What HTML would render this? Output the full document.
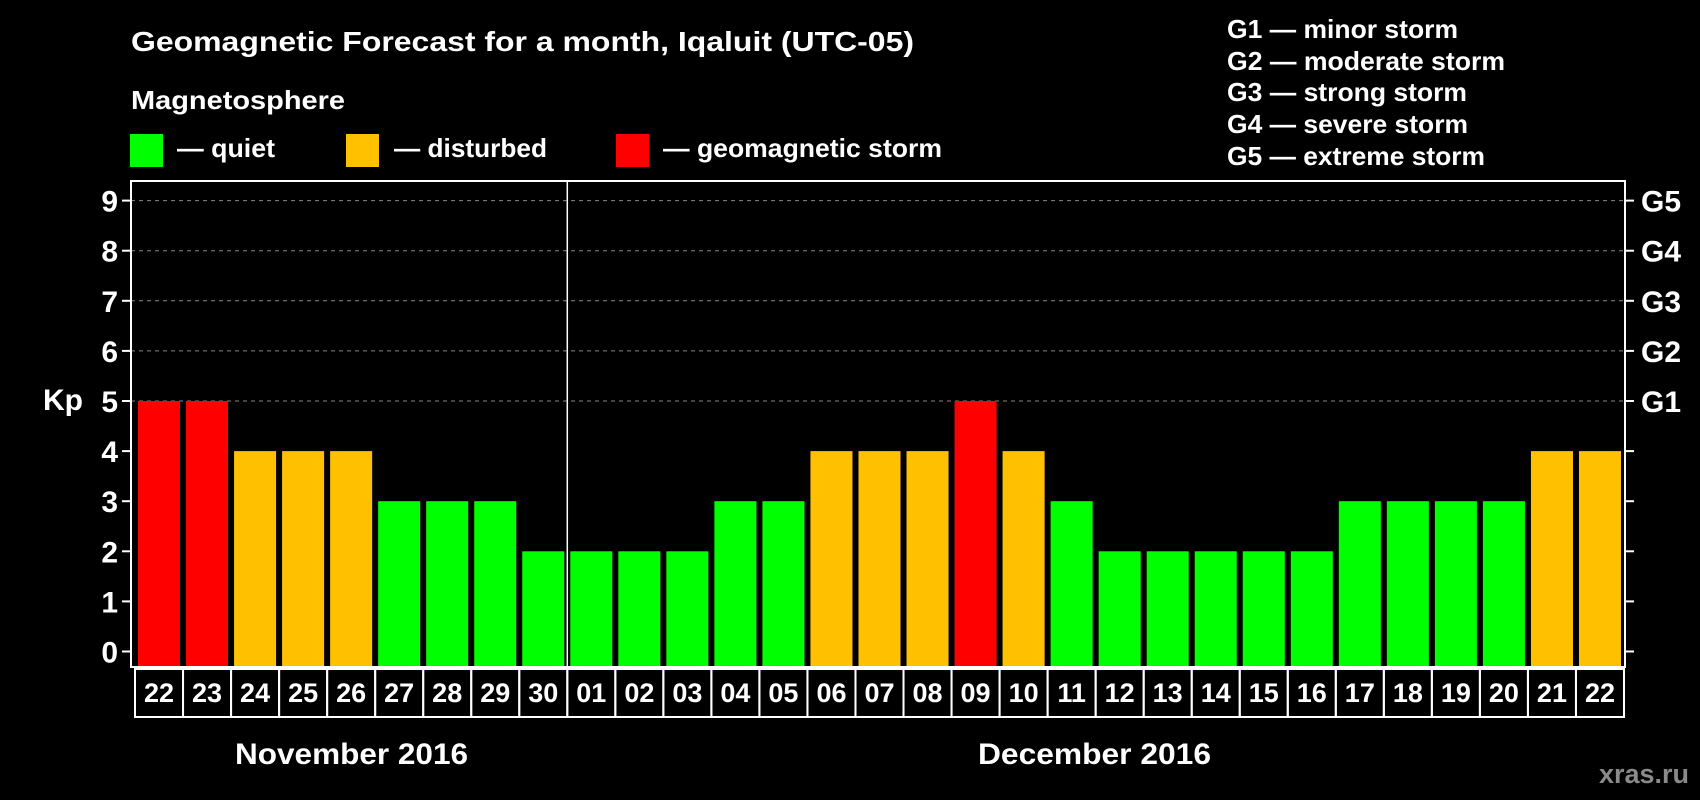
<!DOCTYPE html>
<html><head><meta charset="utf-8"><style>
html,body{margin:0;padding:0;background:#000;}
svg{display:block;font-family:"Liberation Sans",Arial,sans-serif;font-weight:bold;}
</style></head><body>
<svg id="chart" width="1700" height="800" viewBox="0 0 1700 800">
<text x="131" y="51" fill="#fff" font-size="28" textLength="783" lengthAdjust="spacingAndGlyphs">Geomagnetic Forecast for a month, Iqaluit (UTC-05)</text>
<text x="131" y="109" fill="#fff" font-size="26" textLength="214" lengthAdjust="spacingAndGlyphs">Magnetosphere</text>
<rect x="130" y="134" width="33" height="33" fill="#00ff00"/>
<text x="177" y="157" fill="#fff" font-size="26" textLength="98" lengthAdjust="spacingAndGlyphs">— quiet</text>
<rect x="346" y="134" width="33" height="33" fill="#ffc000"/>
<text x="394" y="157" fill="#fff" font-size="26" textLength="153" lengthAdjust="spacingAndGlyphs">— disturbed</text>
<rect x="616" y="134" width="33" height="33" fill="#ff0000"/>
<text x="663" y="157" fill="#fff" font-size="26" textLength="279" lengthAdjust="spacingAndGlyphs">— geomagnetic storm</text>
<g fill="#fff" font-size="26">
<text x="1227" y="38" textLength="231" lengthAdjust="spacingAndGlyphs">G1 — minor storm</text>
<text x="1227" y="70" textLength="278" lengthAdjust="spacingAndGlyphs">G2 — moderate storm</text>
<text x="1227" y="101" textLength="240" lengthAdjust="spacingAndGlyphs">G3 — strong storm</text>
<text x="1227" y="133" textLength="241" lengthAdjust="spacingAndGlyphs">G4 — severe storm</text>
<text x="1227" y="165" textLength="258" lengthAdjust="spacingAndGlyphs">G5 — extreme storm</text>
</g>
<text x="43" y="410" fill="#fff" font-size="30" textLength="40" lengthAdjust="spacingAndGlyphs">Kp</text>
<g id="grid"></g><g id="bars"></g><g id="axes"></g>
<text x="235" y="764" fill="#fff" font-size="30" textLength="233" lengthAdjust="spacingAndGlyphs">November 2016</text>
<text x="978" y="764" fill="#fff" font-size="30" textLength="233" lengthAdjust="spacingAndGlyphs">December 2016</text>
<text x="1689" y="783" fill="#8a8a8a" font-size="27" text-anchor="end">xras.ru</text>
</svg>
<script>
const days = ["22","23","24","25","26","27","28","29","30","01","02","03","04","05","06","07","08","09","10","11","12","13","14","15","16","17","18","19","20","21","22"];
const kp = [5,5,4,4,4,3,3,3,2,2,2,2,3,3,4,4,4,5,4,3,2,2,2,2,2,3,3,3,3,4,4];
const yTicks = [0,1,2,3,4,5,6,7,8,9];
const gLabels = ["","","","","","G1","G2","G3","G4","G5"];
const monthBreak = 9;

const NS="http://www.w3.org/2000/svg";
const L=131,R=1625,T=181,B=667;
const y0=651.5,unit=50.1;
const step=(R-L-5)/days.length;
function y(v){return y0-v*unit;}
function xb(i){return 138+i*step;}
function mk(tag,attrs,parent){const e=document.createElementNS(NS,tag);for(const k in attrs)e.setAttribute(k,attrs[k]);parent.appendChild(e);return e;}
function color(v){return v>=5?"#ff0000":(v>=4?"#ffc000":"#00ff00");}
const grid=document.getElementById('grid'),bars=document.getElementById('bars'),axes=document.getElementById('axes');
yTicks.forEach((t,i)=>{
  if(t>=5){const g=mk('line',{x1:L,x2:R,y1:y(t),y2:y(t),stroke:'#888','stroke-dasharray':'4,4','stroke-width':1},grid);
  
  }
  const a=mk('line',{x1:122,x2:L,y1:y(t),y2:y(t),stroke:'#fff','stroke-width':2},axes);
  
  
  const b=mk('line',{x1:R,x2:R+9,y1:y(t),y2:y(t),stroke:'#fff','stroke-width':2},axes);
  
  
  const lt=mk('text',{x:118,y:y(t)+11,fill:'#fff','font-size':30,'text-anchor':'end'},axes);lt.textContent=t;
  
  
  if(gLabels[i]){const gt=mk('text',{x:1641,y:y(t)+11,fill:'#fff','font-size':30},axes);gt.textContent=gLabels[i];
  
  }
});
kp.forEach((v,i)=>{
  const r=mk('rect',{x:xb(i),y:y(v),width:step-6,height:B-1-y(v),fill:color(v)},bars);
  
  
});
const sep=mk('line',{x1:xb(monthBreak)-3,x2:xb(monthBreak)-3,y1:T,y2:B,stroke:'#fff','stroke-width':1.5},axes);


const frame=mk('rect',{x:L,y:T,width:R-L,height:B-T,fill:'none',stroke:'#fff','stroke-width':2},axes);


days.forEach((d,i)=>{
  const c=mk('rect',{x:xb(i)-3,y:669,width:step,height:48,fill:'none',stroke:'#fff','stroke-width':2},axes);
  
  
  const t=mk('text',{x:xb(i)-3+step/2,y:702,fill:'#fff','font-size':27,'text-anchor':'middle'},axes);t.textContent=d;
  
  
});
</script>
</body></html>
